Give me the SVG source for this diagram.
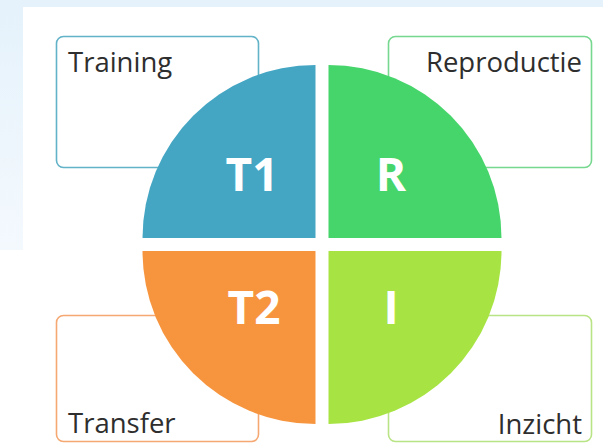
<svg xmlns="http://www.w3.org/2000/svg" width="603" height="443" viewBox="0 0 603 443">
  <defs>
    <linearGradient id="bandGrad" x1="0" y1="0" x2="0" y2="1">
      <stop offset="0" stop-color="#e5f2fb"/>
      <stop offset="1" stop-color="#f4f9fe"/>
    </linearGradient>
    <style>
      .box { fill: #ffffff; stroke-width: 1.6; }
      .label { font-family: "Open Sans", "Noto Sans", "DejaVu Sans", sans-serif; font-size: 27.5px; fill: #2e2e2e; }
      .big { font-family: "Open Sans", "Noto Sans", "DejaVu Sans", sans-serif; font-size: 46px; font-weight: bold; fill: #ffffff; text-anchor: middle; }
    </style>
  </defs>

  <g id="background">
    <rect x="0" y="0" width="603" height="443" fill="#ffffff"/>
    <rect x="0" y="0" width="603" height="7" fill="#e5f2fb"/>
    <rect x="0" y="7" width="23" height="243" fill="url(#bandGrad)"/>
  </g>

  <g id="connectors"/>

  <g id="node-training">
    <rect class="box" x="56.5" y="36.5" width="202" height="131" rx="7" stroke="#62b2c8"/>
    <text class="label" x="68" y="72">Training</text>
  </g>
  <g id="node-reproductie">
    <rect class="box" x="388.5" y="36.5" width="203" height="131" rx="7" stroke="#76d88f"/>
    <text class="label" x="582" y="72" text-anchor="end">Reproductie</text>
  </g>
  <g id="node-transfer">
    <rect class="box" x="56.5" y="315.5" width="202" height="126" rx="7" stroke="#f5a872"/>
    <text class="label" x="68" y="433">Transfer</text>
  </g>
  <g id="node-inzicht">
    <rect class="box" x="388.5" y="315.5" width="203" height="126" rx="7" stroke="#b9e485"/>
    <text class="label" x="582" y="434" text-anchor="end">Inzicht</text>
  </g>

  <g id="node-t1">
    <path d="M315.5,238 L142.5,238 A173,173 0 0 1 315.5,65 Z" fill="#45a6c4"/>
    <text class="big" x="252" y="191">T1</text>
  </g>
  <g id="node-r">
    <path d="M328.5,238 L328.5,65 A173,173 0 0 1 501.5,238 Z" fill="#46d56b"/>
    <text class="big" x="391" y="191">R</text>
  </g>
  <g id="node-t2">
    <path d="M315.5,251 L315.5,424 A173,173 0 0 1 142.5,251 Z" fill="#f7953f"/>
    <text class="big" x="254" y="324">T2</text>
  </g>
  <g id="node-i">
    <path d="M328.5,251 L501.5,251 A173,173 0 0 1 328.5,424 Z" fill="#a7e443"/>
    <text class="big" x="391" y="324">I</text>
  </g>
</svg>
